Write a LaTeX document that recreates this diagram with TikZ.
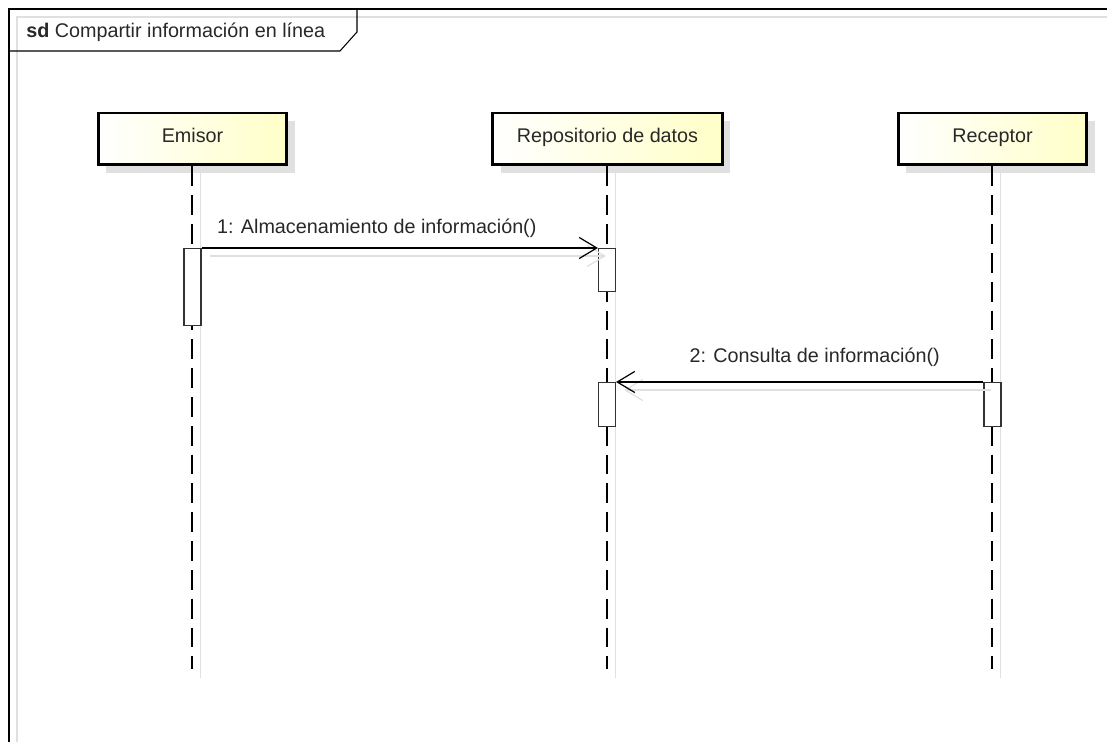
\documentclass[tikz,border=0pt]{standalone}
\usepackage{fontspec}
\setmainfont{Liberation Sans}
\usetikzlibrary{arrows.meta, shadows}
\definecolor{cabamarillo}{RGB}{255,255,200}
\definecolor{sombra}{RGB}{224,224,224}
\definecolor{texto}{RGB}{40,40,40}
\tikzset{
  cabecera/.style = {
    draw, line width=1.7pt, left color=white, right color=cabamarillo,
    minimum height=1.04cm, text height=0.3cm, text depth=0.152cm,
    text=texto, font=\fontsize{11.25}{13}\selectfont,
    drop shadow={shadow xshift=0.16cm, shadow yshift=-0.16cm, fill=sombra, opacity=1}
  },
  activacion/.style = {draw=black!80, fill=white, line width=0.6pt, minimum width=0.34cm, anchor=north, inner sep=0pt},
  linea/.style = {line width=1.05pt, dash pattern=on 11.3pt off 5.1pt},
  sombralinea/.style = {draw=sombra, line width=0.7pt},
  mensaje/.style = {line width=0.7pt, -{Straight Barb[length=10pt, width=12pt]}},
  etiqueta/.style = {text=texto, font=\fontsize{11.25}{13}\selectfont, inner sep=0pt}
}

\begin{document}
\begin{tikzpicture}[x=0.02cm, y=-0.02cm]

  \useasboundingbox (0,0) rectangle (1107,742);

  %% Diagrama de secuencia

  % Marco
  \draw[sombralinea] (17,742) -- (17,17) -- (1107,17);
  \draw[line width=0.9pt] (9,742) -- (9,9) -- (1107,9);
  \draw[line width=0.6pt] (9,51) -- (340,51) -- (357,32) -- (357,9);
  \node[etiqueta, anchor=base west] (titulo) at (26,38) {\textbf{sd} Compartir información en línea};

  % Cabeceras
  \node[cabecera, minimum width=3.78cm] (emisor) at (192.5,139) {Emisor};
  \node[cabecera, minimum width=4.6cm] (repo) at (607.5,139) {Repositorio de datos};
  \node[cabecera, minimum width=3.78cm] (receptor) at (992.5,139) {Receptor};

  % Lineas de vida
  \coordinate (fin) at (0,669);
  \coordinate (finsombra) at (0,678);
  \foreach \n in {emisor, repo, receptor} {
    \draw[sombralinea] ([xshift=0.16cm]\n.south) -- ([xshift=0.16cm]\n.south |- finsombra);
    \draw[linea] ([xshift=-0.01cm]\n.south) -- ([xshift=-0.01cm]\n.south |- fin);
  }

  % Activaciones
  \node[activacion, minimum height=1.54cm] (actE) at (192.5,248) {};
  \node[activacion, minimum height=0.86cm] (actR1) at (607,248) {};
  \node[activacion, minimum height=0.88cm] (actR2) at (607,382) {};
  \node[activacion, minimum height=0.88cm] (actRc) at (992.5,382) {};

  % Mensajes
  \draw[sombralinea, -{Straight Barb[length=10pt, width=12pt]}]
    ([shift={(8,8)}]actE.north east) -- ([shift={(8,8)}]actR1.north west);
  \draw[mensaje] (actE.north east) -- (actR1.north west)
    node[etiqueta, pos=0, anchor=base west, xshift=0.3cm, yshift=0.29cm] {1: Almacenamiento de información()};

  \draw[sombralinea, -{Straight Barb[length=10pt, width=12pt]}]
    ([shift={(8,8)}]actRc.north west) -- ([shift={(8,8)}]actR2.north east);
  \draw[mensaje] (actRc.north west) -- (actR2.north east)
    node[etiqueta, pos=1, anchor=base west, xshift=1.46cm, yshift=0.38cm] {2: Consulta de información()};

\end{tikzpicture}
\end{document}
